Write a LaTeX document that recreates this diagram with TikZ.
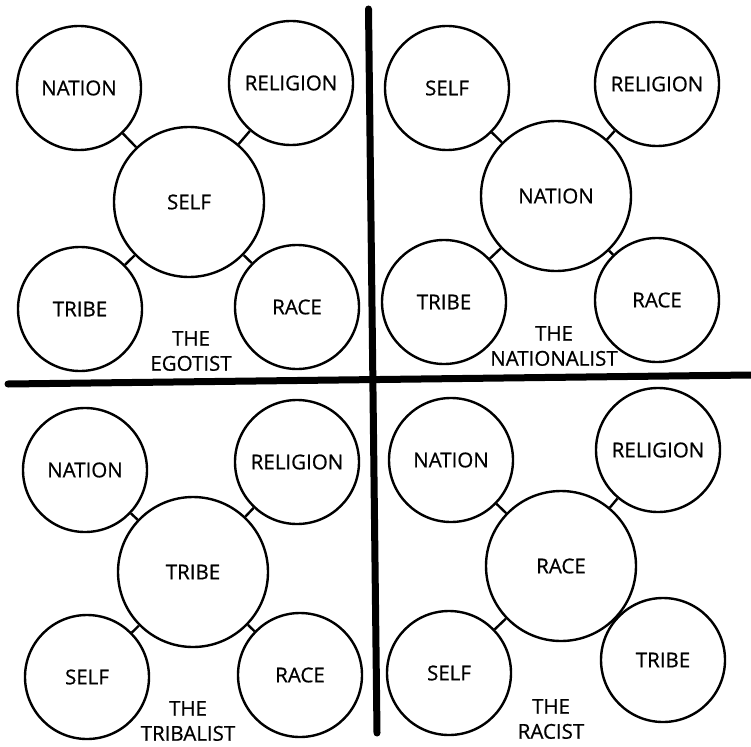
\documentclass[tikz,border=0pt]{standalone}
\usepackage{fontspec}
\setmainfont{Open Sans}
\newfontfamily\labelfont[FakeBold=0.7]{Open Sans}
\usepackage{tikz}
\usetikzlibrary{positioning}

\tikzset{
  ring/.style={draw,circle,line width=2.4pt,inner sep=0pt,minimum size=124pt,
    font=\labelfont\fontsize{20.5}{22}\selectfont},
  hub/.style={ring,minimum size=150pt},
  link/.style={line width=2.4pt},
  divider/.style={line width=7pt,line cap=round},
  caption/.style={align=center,inner sep=0pt,font=\labelfont\fontsize{20.5}{25}\selectfont}
}

\begin{document}
\begin{tikzpicture}[x=1pt,y=-1pt]
				\useasboundingbox (0,0) rectangle (751,746);
				
				% the egotist
				\node[hub]  (e-self)     at (189,202) {SELF};
				\node[ring] (e-nation)   at (79,88)   {NATION};
				\node[ring] (e-religion) at (291,83)  {RELIGION};
				\node[ring] (e-tribe)    at (80,309)  {TRIBE};
				\node[ring] (e-race)     at (297,307) {RACE};
				\foreach \o in {nation,religion,tribe,race}
				\draw[link] (e-self) -- (e-\o);
				\node[caption] (e-name) at (191,351) {THE\\EGOTIST};
				
				% the nationalist
				\node[hub]  (n-nation)   at (556,196) {NATION};
				\node[ring] (n-self)     at (447,88)  {SELF};
				\node[ring] (n-religion) at (657,84)  {RELIGION};
				\node[ring] (n-tribe)    at (444,302) {TRIBE};
				\node[ring] (n-race)     at (657,300) {RACE};
				\foreach \o in {self,religion,tribe,race}
				\draw[link] (n-nation) -- (n-\o);
				\node[caption] (n-name) at (554,346) {THE\\NATIONALIST};
				
				% the tribalist
				\node[hub]  (t-tribe)    at (193,572) {TRIBE};
				\node[ring] (t-nation)   at (85,470)  {NATION};
				\node[ring] (t-religion) at (297,462) {RELIGION};
				\node[ring] (t-self)     at (87,677)  {SELF};
				\node[ring] (t-race)     at (300,675) {RACE};
				\foreach \o in {nation,religion,self,race}
				\draw[link] (t-tribe) -- (t-\o);
				\node[caption] (t-name) at (188,721) {THE\\TRIBALIST};
				
				% the racist
				\node[hub]  (r-race)     at (561,566) {RACE};
				\node[ring] (r-nation)   at (451,460) {NATION};
				\node[ring] (r-religion) at (658,450) {RELIGION};
				\node[ring] (r-self)     at (449,673) {SELF};
				\node[ring] (r-tribe)    at (663,660) {TRIBE};
				\foreach \o in {nation,religion,self,tribe}
				\draw[link] (r-race) -- (r-\o);
				\node[caption] (r-name) at (551,719) {THE\\RACIST};
				
				% dividers
				\coordinate (top) at (368.5,9);
				\coordinate (bottom) at (377,733);
				\coordinate (left) at (8,384);
				\coordinate (right) at (751,375);
				\draw[divider] (top) -- (bottom);
				\draw[divider] (left) -- (right);
			\end{tikzpicture}
\end{document}
